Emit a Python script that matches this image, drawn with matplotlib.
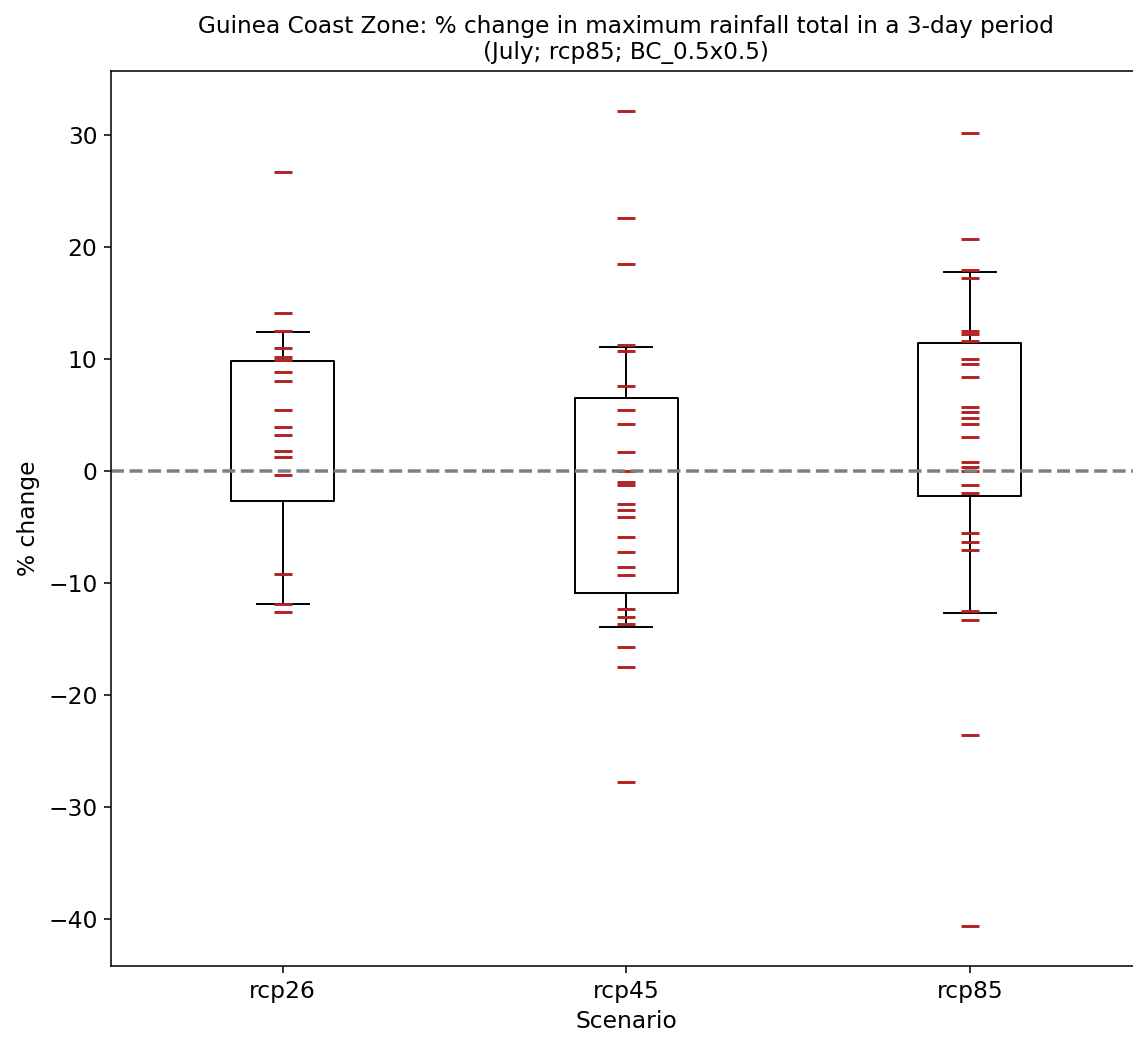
import numpy as np
import matplotlib
matplotlib.use("Agg")
import matplotlib.pyplot as plt

scenarios = ["rcp26", "rcp45", "rcp85"]

# % change per model
rcp26 = [26.7, 14.1, 12.5, 11.0, 10.2, 9.9, 8.8, 8.0, 5.4, 3.9, 3.2, 1.8, 1.2,
         -0.4, -9.2, -11.9, -12.6]
rcp45 = [32.1, 22.6, 18.5, 11.2, 10.7, 7.6, 5.4, 4.2, 1.65, 0.0, -1.0, -1.3,
         -3.0, -3.5, -4.1, -5.9, -7.25, -8.6, -9.3, -12.3, -13.05, -13.7,
         -15.7, -17.5, -27.8]
rcp85 = [30.2, 20.7, 17.9, 17.2, 12.5, 12.2, 11.6, 10.0, 9.5, 8.35, 5.7, 5.3,
         4.75, 4.2, 3.0, 0.8, 0.35, 0.0, -1.3, -2.0, -5.5, -6.35, -7.1, -12.55,
         -13.3, -23.6, -40.6]

# box statistics as drawn
q1 = [-2.7, -10.9, -2.2]
q3 = [9.8, 6.5, 11.4]
whislo = [-11.9, -13.9, -12.7]
whishi = [12.4, 11.1, 17.75]

data = [rcp26, rcp45, rcp85]

fig = plt.figure(figsize=(1133 / 140, 1038 / 140), dpi=140)
ax = fig.add_axes([111 / 1133, 1 - 966 / 1038, 1030.5 / 1133, (966 - 71) / 1038])

stats = []
for i in range(len(scenarios)):
    stats.append({"label": scenarios[i], "q1": q1[i], "q3": q3[i],
                  "med": q1[i], "whislo": whislo[i], "whishi": whishi[i],
                  "fliers": []})

ax.bxp(stats, positions=[1, 2, 3], widths=0.3, showfliers=False,
       medianprops=dict(visible=False))

for i, vals in enumerate(data):
    ax.plot([i + 1] * len(vals), vals, linestyle="none", marker="_",
            markersize=9, markeredgewidth=1.5, color="firebrick")

ax.axhline(0, color="grey", linestyle="--", linewidth=1.8)

ax.set_xlim(0.5, 3.5)
ax.set_ylim(-44.2, 35.7)
ax.set_xticks([1, 2, 3])
ax.set_xticklabels(scenarios)
ax.set_yticks(np.arange(-40, 31, 10))
ax.tick_params(labelsize=12)
ax.set_xlabel("Scenario", fontsize=12)
ax.set_ylabel("% change", fontsize=12)
ax.set_title("Guinea Coast Zone: % change in maximum rainfall total in a 3-day period\n"
             "(July; rcp85; BC_0.5x0.5)", fontsize=11.9)

fig.savefig("out.png", dpi=140)
